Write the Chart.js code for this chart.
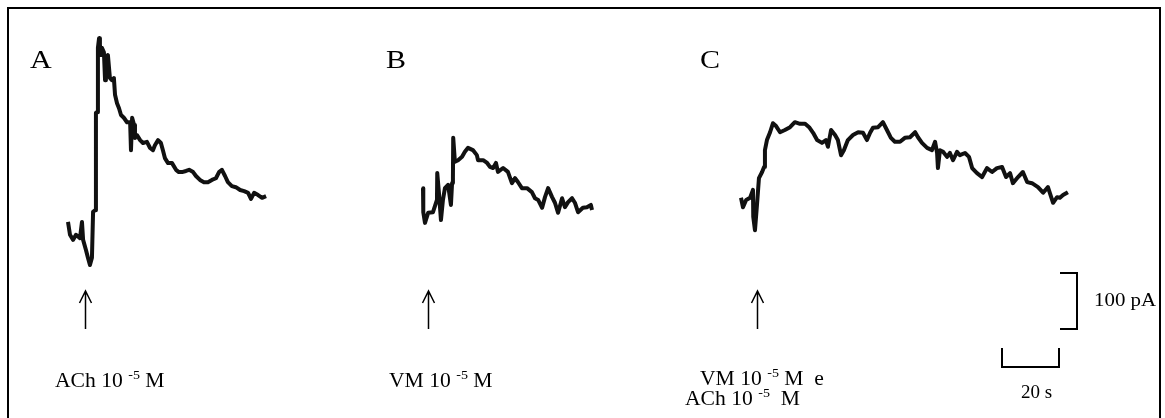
<!DOCTYPE html>
<html>
<head>
<meta charset="utf-8">
<title>Correnti evocate</title>
<script src="https://cdn.jsdelivr.net/npm/chart.js"></script>
<style>
  html, body { margin: 0; padding: 0; background: #fff; }
  #wrap { width: 1165px; height: 418px; }
</style>
</head>
<body>
<div id="wrap"><canvas id="traces" width="1165" height="418"></canvas></div>
<script>
// Recordings: time (s) from the start of each trace, current (pA) from its baseline
const timeA = [0, 0.7, 1.8, 2.8, 4.2, 4.9, 5.3, 6.3, 7.0, 7.7, 8.4, 8.8, 9.5, 9.8, 10.2, 10.5, 10.9, 11.2, 11.6, 11.9,
  12.6, 13.0, 13.3, 14.0, 14.7, 15.4, 16.1, 16.5, 17.2, 17.9, 18.6, 19.6, 20.7, 21.8, 22.1, 22.5, 23.2, 23.5, 24.2, 25.3,
  26.3, 27.7, 28.8, 29.8, 30.5, 31.6, 32.6, 33.3, 34.0, 35.1, 36.5, 37.9, 38.9, 40.0, 41.4, 42.5, 43.9, 44.9, 46.3, 47.7,
  49.1, 50.5, 51.9, 53.0, 54.0, 55.1, 56.1, 57.5, 58.9, 60.4, 61.8, 63.2, 64.2, 65.3, 66.7, 68.1, 69.5];
const currentA = [18, -5, -14, -5, -11, 18, -14, -32, -46, -59, -46, 36, 39, 213, 214, 329, 346, 334, 316, 329,
  321, 271, 307, 316, 275, 271, 275, 245, 230, 221, 209, 204, 196, 196, 146, 204, 191, 168, 173, 164,
  159, 161, 150, 146, 155, 164, 159, 146, 132, 123, 123, 111, 107, 107, 109, 111, 107, 100, 93, 89,
  89, 93, 96, 107, 111, 100, 89, 82, 80, 75, 73, 70, 59, 70, 66, 61, 64];

const timeB = [0, 0.1, 0.7, 1.8, 3.5, 4.9, 5.0, 5.6, 6.3, 7.0, 7.7, 8.8, 9.8, 10.2, 10.5, 10.6, 11.2, 12.3, 13.7, 14.7,
  15.8, 17.5, 18.9, 19.3, 21.1, 22.5, 23.5, 24.6, 25.6, 26.3, 28.1, 29.8, 31.2, 32.3, 33.3, 34.7, 36.5, 38.2, 39.3, 40.4,
  41.8, 42.8, 43.9, 45.3, 46.3, 47.4, 48.8, 49.8, 50.9, 52.3, 53.3, 54.4, 56.1, 57.5, 58.9, 59.3];
const currentB = [39, -4, -23, -5, -4, 18, 66, 30, -18, 18, 39, 45, 9, 48, 57, 129, 86, 89, 95, 104,
  111, 107, 98, 89, 89, 84, 77, 75, 84, 68, 75, 68, 48, 57, 50, 39, 39, 32, 21, 18,
  4, 23, 39, 23, 13, -5, 21, 5, 14, 21, 13, -4, 4, 5, 9, 0];

const timeC = [0, 0.7, 1.8, 3.2, 4.2, 4.3, 4.9, 5.6, 6.3, 7.4, 8.1, 8.4, 9.1, 10.2, 11.2, 12.3, 13.7, 15.4, 17.2, 18.9,
  20.7, 22.5, 23.9, 25.3, 26.7, 28.4, 29.8, 30.5, 31.6, 33.0, 34.0, 35.1, 36.1, 37.5, 39.3, 41.1, 42.8, 44.2, 45.3, 46.3,
  48.1, 49.8, 51.2, 52.6, 54.0, 55.8, 57.5, 59.3, 61.1, 62.1, 63.5, 65.3, 67.0, 68.1, 68.8, 69.1, 69.8, 70.9, 72.3, 73.3,
  74.4, 75.8, 76.8, 78.6, 80.0, 81.1, 82.8, 84.6, 86.3, 88.1, 89.8, 91.6, 93.0, 94.4, 95.4, 97.2, 98.9, 100.4, 102.1, 104.2,
  106.0, 107.7, 109.5, 110.9, 111.9, 113.0, 114.7];
const currentC = [4, -13, 0, 4, 18, -30, -54, -9, 39, 50, 59, 89, 107, 121, 137, 132, 121, 125, 130, 139,
  136, 136, 130, 120, 107, 102, 107, 95, 125, 116, 107, 80, 89, 107, 116, 121, 120, 107, 120, 129,
  130, 139, 125, 111, 104, 104, 111, 112, 121, 112, 102, 93, 89, 104, 84, 57, 89, 86, 77, 84,
  71, 86, 80, 84, 77, 57, 48, 41, 57, 50, 57, 59, 41, 48, 30, 41, 50, 32, 30, 23,
  13, 23, -5, 5, 4, 9, 14];

// drug application times (s, from trace start)
const stimTimes = [6.0, 1.8, 5.6];
const panelLetters = ['A', 'B', 'C'];
// each line: [text, superscript, text]
const drugLabels = [
  [['ACh 10 ', '-5', ' M']],
  [['VM 10 ', '-5', ' M']],
  [['VM 10 ', '-5', ' M  e'], ['ACh 10 ', '-5', '  M']]
];

// calibration bars
const barTime = 20;      // s
const barCurrent = 100;  // pA
const barTimeLabel = '20 s';
const barCurrentLabel = '100 pA';

// ---- layout (pixels) ----
const W = 1165, H = 418;
const PX_PER_S = 57 / 20;
const PX_PER_PA = 56 / 100;
const FONT = '"Liberation Serif", "Times New Roman", serif';

const panels = [
  { left: 68, base: 232, letterX: 30, textX: [55], textY: [387] },
  { left: 423, base: 210, letterX: 386, textX: [389], textY: [387] },
  { left: 741, base: 200, letterX: 700, textX: [700, 685], textY: [385, 405] }
];

const toT = px => px / PX_PER_S;
const toI = py => (H - py) / PX_PER_PA;

const series = [[timeA, currentA], [timeB, currentB], [timeC, currentC]];

const datasets = series.map(([t, c], i) => {
  const p = panels[i];
  const t0 = toT(p.left);
  const c0 = toI(p.base);
  return {
    data: t.map((v, k) => ({ x: t0 + v, y: c0 + c[k] })),
    borderColor: '#111',
    borderWidth: 4,
    borderJoinStyle: 'round',
    borderCapStyle: 'butt',
    pointRadius: 0,
    tension: 0,
    fill: false
  };
});

// the lettering of the figure runs a little wide
function stretchedText(ctx, str, x, y, sx) {
  ctx.save();
  ctx.translate(x, y);
  ctx.scale(sx, 1);
  ctx.fillText(str, 0, 0);
  ctx.restore();
  return ctx.measureText(str).width * sx;
}

function drawSupText(ctx, parts, x, y, size, sx) {
  ctx.font = size + 'px ' + FONT;
  x += stretchedText(ctx, parts[0], x, y, sx);
  ctx.font = Math.round(size * 0.66) + 'px ' + FONT;
  x += stretchedText(ctx, parts[1], x, y - size * 0.42, sx);
  ctx.font = size + 'px ' + FONT;
  stretchedText(ctx, parts[2], x, y, sx);
}

const annotations = {
  id: 'annotations',
  afterDatasetsDraw(chart) {
    const { ctx, scales: { x, y } } = chart;
    ctx.save();
    ctx.fillStyle = '#000';
    ctx.strokeStyle = '#000';
    ctx.textBaseline = 'alphabetic';

    // frame
    ctx.lineWidth = 2;
    ctx.strokeRect(8, 8, 1152, 420);

    panels.forEach((p, i) => {
      // panel letter
      ctx.font = '25px ' + FONT;
      stretchedText(ctx, panelLetters[i], p.letterX, 68, 1.2);

      // arrow at the drug application
      const ax = Math.round(x.getPixelForValue(toT(p.left) + stimTimes[i])) + 0.5;
      ctx.lineWidth = 1.5;
      ctx.beginPath();
      ctx.moveTo(ax, 329);
      ctx.lineTo(ax, 291);
      ctx.moveTo(ax - 6, 303);
      ctx.lineTo(ax, 291);
      ctx.lineTo(ax + 6, 303);
      ctx.stroke();

      drugLabels[i].forEach((line, k) => {
        drawSupText(ctx, line, p.textX[k], p.textY[k], 20, 1.08);
      });
    });

    // time bar
    const tStart = toT(1002);
    const bx0 = x.getPixelForValue(tStart);
    const bx1 = x.getPixelForValue(tStart + barTime);
    ctx.lineWidth = 2;
    ctx.beginPath();
    ctx.moveTo(bx0, 348);
    ctx.lineTo(bx0, 367);
    ctx.lineTo(bx1, 367);
    ctx.lineTo(bx1, 348);
    ctx.stroke();
    ctx.font = '19px ' + FONT;
    ctx.textAlign = 'center';
    ctx.fillText(barTimeLabel, (bx0 + bx1) / 2 + 6, 398);

    // current bar
    const iStart = toI(329);
    const by0 = y.getPixelForValue(iStart);
    const by1 = y.getPixelForValue(iStart + barCurrent);
    ctx.beginPath();
    ctx.moveTo(1060, by1);
    ctx.lineTo(1077, by1);
    ctx.lineTo(1077, by0);
    ctx.lineTo(1060, by0);
    ctx.stroke();
    ctx.textAlign = 'left';
    ctx.font = '19px ' + FONT;
    stretchedText(ctx, barCurrentLabel, 1094, 306, 1.1);

    ctx.restore();
  }
};

new Chart(document.getElementById('traces'), {
  type: 'line',
  data: { datasets },
  options: {
    responsive: false,
    animation: false,
    devicePixelRatio: 1,
    layout: { padding: 0 },
    scales: {
      x: { type: 'linear', min: 0, max: toT(W), display: false },
      y: { type: 'linear', min: 0, max: toI(0), display: false }
    },
    plugins: {
      legend: { display: false },
      tooltip: { enabled: false }
    }
  },
  plugins: [annotations]
});
</script>
</body>
</html>
